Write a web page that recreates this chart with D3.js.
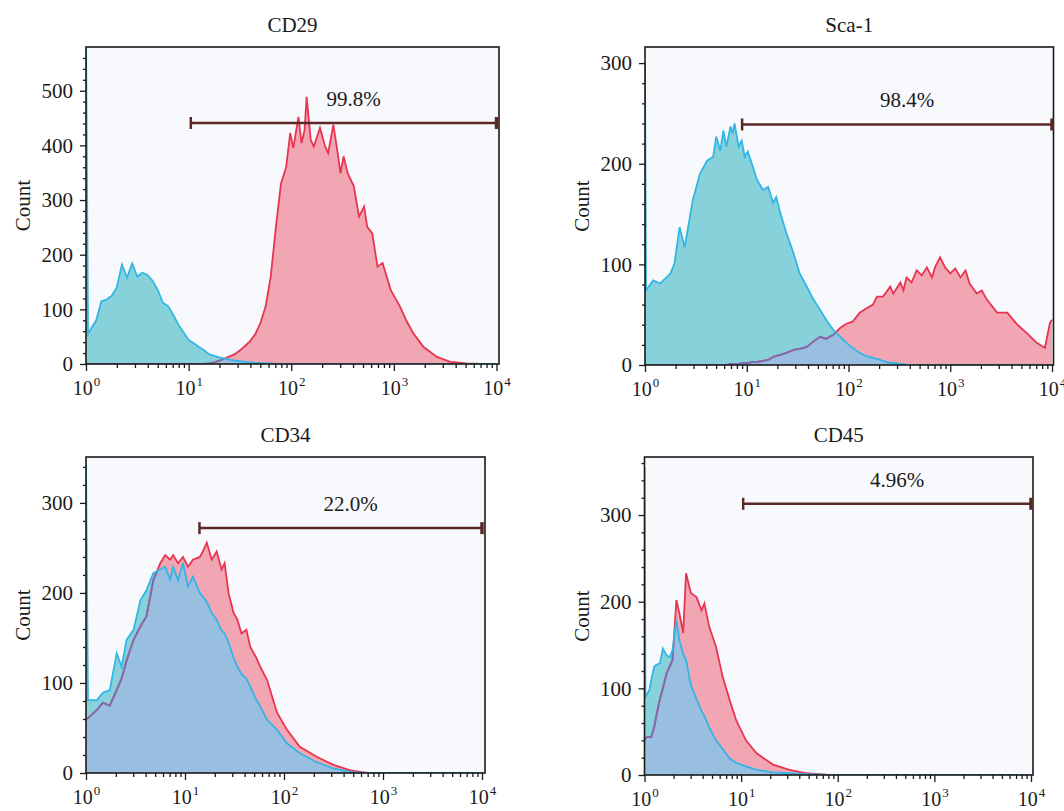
<!DOCTYPE html>
<html>
<head>
<meta charset="utf-8">
<script src="https://cdn.jsdelivr.net/npm/d3@7"></script>
<style>
  body { margin: 0; background: #fff; }
  svg { display: block; font-family: "Liberation Serif", "Times New Roman", serif; }
</style>
</head>
<body>
<div id="chart"></div>
<script>
// ---- data (x positions are log10 of fluorescence, counts) ----
const panelTitles = ["CD29", "Sca-1", "CD34", "CD45"];

const cd29Log = [0, 0.02, 0.05, 0.1, 0.15, 0.2, 0.25, 0.3, 0.35, 0.4,
  0.45, 0.5, 0.55, 0.6, 0.65, 0.7, 0.75, 0.8, 0.85, 0.9,
  0.95, 1.0, 1.05, 1.1, 1.15, 1.2, 1.25, 1.3, 1.35, 1.4,
  1.45, 1.5, 1.55, 1.6, 1.65, 1.7, 1.75, 1.8, 1.85, 1.9,
  1.95, 1.99, 2.02, 2.07, 2.1, 2.13, 2.15, 2.19, 2.22, 2.28,
  2.33, 2.36, 2.41, 2.45, 2.48, 2.51, 2.55, 2.61, 2.66, 2.71,
  2.74, 2.79, 2.84, 2.89, 2.97, 3.06, 3.12, 3.19, 3.29, 3.42,
  3.55, 3.71, 3.85, 4.0];
const cd29Control = [600, 55, 65, 80, 115, 118, 125, 140, 182, 158,
  184, 160, 167, 163, 152, 135, 112, 106, 90, 72,
  58, 44, 38, 31, 25, 18, 15, 12, 10, 8,
  6, 5, 4, 3, 2, 2, 1, 1, 0, 0,
  0, 0, 0, 0, 0, 0, 0, 0, 0, 0,
  0, 0, 0, 0, 0, 0, 0, 0, 0, 0,
  0, 0, 0, 0, 0, 0, 0, 0, 0, 0,
  0, 0, 0, 0];
const cd29Stained = [0, 0, 0, 0, 0, 0, 0, 0, 0, 0,
  0, 0, 0, 0, 0, 0, 0, 0, 0, 0,
  0, 0, 0, 0, 0, 1, 3, 6, 10, 14,
  18, 25, 33, 42, 55, 75, 105, 160, 250, 330,
  360, 423, 395, 452, 404, 428, 489, 410, 398, 432,
  398, 386, 438, 389, 349, 380, 349, 325, 270, 288,
  251, 239, 178, 185, 135, 105, 80, 56, 31, 13,
  4, 1, 0, 0];

const scaLog = [0, 0.01, 0.08, 0.15, 0.25, 0.29, 0.34, 0.39, 0.47, 0.54,
  0.61, 0.67, 0.70, 0.74, 0.77, 0.80, 0.84, 0.86, 0.88, 0.92,
  0.95, 0.98, 1.01, 1.06, 1.10, 1.16, 1.21, 1.26, 1.29, 1.33,
  1.39, 1.46, 1.52, 1.59, 1.65, 1.72, 1.78, 1.85, 1.92, 1.98,
  2.04, 2.11, 2.17, 2.24, 2.28, 2.34, 2.41, 2.44, 2.51, 2.54,
  2.57, 2.62, 2.67, 2.72, 2.77, 2.82, 2.85, 2.90, 2.95, 3.00,
  3.05, 3.10, 3.15, 3.19, 3.26, 3.31, 3.36, 3.46, 3.56, 3.66,
  3.75, 3.85, 3.93, 3.98, 4.0];
const scaControl = [300, 74, 84, 81, 91, 101, 137, 117, 164, 190,
  203, 207, 227, 213, 233, 217, 237, 230, 240, 217,
  223, 207, 212, 197, 184, 174, 177, 161, 167, 151,
  131, 111, 91, 78, 66, 55, 45, 35, 28, 22,
  17, 12, 9, 7, 6, 4, 2, 2, 1, 1,
  0, 0, 0, 0, 0, 0, 0, 0, 0, 0,
  0, 0, 0, 0, 0, 0, 0, 0, 0, 0,
  0, 0, 0, 0, 0];
const scaStained = [0, 0, 0, 0, 0, 0, 0, 0, 0, 0,
  0, 0, 0, 0, 0, 0, 1, 1, 1, 1,
  2, 2, 2, 3, 3, 4, 5, 8, 9, 10,
  12, 15, 16, 18, 23, 28, 26, 30, 37, 41,
  43, 52, 56, 60, 68, 68, 78, 71, 82, 74,
  87, 82, 94, 89, 97, 87, 97, 107, 97, 91,
  96, 87, 94, 81, 71, 74, 65, 52, 52, 40,
  32, 22, 17, 42, 45];

const cd34Log = [0, 0.02, 0.11, 0.17, 0.24, 0.31, 0.36, 0.41, 0.48, 0.55,
  0.61, 0.68, 0.75, 0.8, 0.85, 0.88, 0.93, 0.98, 1.03, 1.08,
  1.15, 1.18, 1.22, 1.27, 1.32, 1.37, 1.40, 1.44, 1.49, 1.53,
  1.57, 1.62, 1.66, 1.72, 1.76, 1.83, 1.93, 2.03, 2.16, 2.33,
  2.5, 2.67, 2.84, 3.2, 3.6, 4.0];
const cd34Control = [342, 81, 81, 89, 92, 133, 118, 148, 159, 192,
  203, 222, 226, 229, 215, 229, 214, 233, 207, 218,
  200, 196, 190, 178, 170, 158, 155, 145, 128, 118,
  110, 105, 96, 81, 74, 59, 48, 33, 22, 12,
  5, 1, 0, 0, 0, 0];
const cd34Stained = [60, 61, 70, 78, 75, 92, 105, 125, 148, 163,
  174, 214, 233, 242, 237, 242, 233, 240, 229, 237,
  240, 246, 256, 237, 246, 226, 233, 200, 178, 170,
  155, 159, 140, 128, 118, 103, 67, 48, 29, 18,
  9, 3, 0, 0, 0, 0];

const cd45Log = [0, 0.01, 0.03, 0.05, 0.07, 0.1, 0.12, 0.16, 0.19, 0.23,
  0.26, 0.29, 0.33, 0.36, 0.4, 0.43, 0.48, 0.54, 0.59, 0.62,
  0.67, 0.74, 0.81, 0.88, 0.95, 1.05, 1.16, 1.33, 1.5, 1.68,
  1.9, 2.5, 3.0, 3.5, 4.0];
const cd45Control = [355, 90, 94, 98, 110, 125, 127, 129, 146, 138,
  136, 144, 179, 156, 140, 133, 104, 87, 74, 68,
  55, 40, 30, 19, 14, 10, 6, 3, 2, 1,
  0, 0, 0, 0, 0];
const cd45Stained = [40, 42, 44, 44, 44, 55, 67, 88, 100, 118,
  125, 133, 202, 187, 164, 233, 210, 205, 190, 198,
  171, 148, 113, 87, 63, 40, 25, 12, 6, 2,
  0, 0, 0, 0, 0];

const yMaxes = [580, 316, 351, 367];
const yTickSets = [[0, 100, 200, 300, 400, 500], [0, 100, 200, 300], [0, 100, 200, 300], [0, 100, 200, 300]];
const xTickValues = [1, 10, 100, 1000, 10000];

const gateLabels = ["99.8%", "98.4%", "22.0%", "4.96%"];
const gateFrom = [10.5, 9, 14, 10.5];
const gateTo = [10000, 10000, 10000, 10000];
const gateLevel = [441, 239, 272, 313];

// ---- layout ----
const width = 1064, height = 811;
const boxes = [
  { left: 86, x10k: 496.5, right: 499, top: 47, bottom: 364 },
  { left: 645, x10k: 1052, right: 1053.5, top: 47, bottom: 365 },
  { left: 86, x10k: 482, right: 485, top: 457, bottom: 773 },
  { left: 644.5, x10k: 1031, right: 1033, top: 457, bottom: 775 }
];

const colors = {
  bg: "#f8f9fc",
  ctrlFill: "#86d1da",
  ctrlLine: "#33b6e6",
  stainFill: "#f2a6b4",
  stainLine: "#e8354f",
  overlap: "#98bee0",
  hidden: "#7a6fb3",
  gate: "#5b2828",
  ink: "#1a1a1a"
};

const fontSize = 21;

const panels = [
  { log: cd29Log, control: cd29Control, stained: cd29Stained },
  { log: scaLog, control: scaControl, stained: scaStained },
  { log: cd34Log, control: cd34Control, stained: cd34Stained },
  { log: cd45Log, control: cd45Control, stained: cd45Stained }
];

const svg = d3.select("#chart").append("svg")
  .attr("width", width)
  .attr("height", height);

svg.append("rect").attr("width", width).attr("height", height).attr("fill", "#fff");

panels.forEach((p, i) => {
  const box = boxes[i];
  const g = svg.append("g");

  const x = d3.scaleLog().domain([1, 1e4]).range([box.left, box.x10k]);
  const y = d3.scaleLinear().domain([0, yMaxes[i]]).range([box.bottom, box.top]);

  const pts = p.log.map((lx, k) => ({ v: Math.pow(10, lx), a: p.control[k], b: p.stained[k] }));

  // plot background
  g.append("rect")
    .attr("x", box.left).attr("y", box.top)
    .attr("width", box.right - box.left).attr("height", box.bottom - box.top)
    .attr("fill", colors.bg);

  const clipId = "clip" + i;
  svg.append("clipPath").attr("id", clipId)
    .append("rect")
    .attr("x", box.left).attr("y", box.top)
    .attr("width", box.right - box.left).attr("height", box.bottom - box.top);

  const marks = g.append("g").attr("clip-path", `url(#${clipId})`);

  const areaOf = (acc) => d3.area().x(d => x(d.v)).y0(y(0)).y1(d => y(acc(d)));
  const lineOf = (acc) => d3.line().x(d => x(d.v)).y(d => y(acc(d)));

  marks.append("path").datum(pts).attr("d", areaOf(d => d.b)).attr("fill", colors.stainFill);
  marks.append("path").datum(pts).attr("d", areaOf(d => d.a)).attr("fill", colors.ctrlFill);
  marks.append("path").datum(pts).attr("d", areaOf(d => Math.min(d.a, d.b))).attr("fill", colors.overlap);

  marks.append("path").datum(pts).attr("d", lineOf(d => d.b))
    .attr("fill", "none").attr("stroke", colors.stainLine).attr("stroke-width", 1.8);

  // stained outline seen through the control histogram
  const ctrlClip = "ctrl" + i;
  svg.append("clipPath").attr("id", ctrlClip)
    .append("path").datum(pts).attr("d", areaOf(d => d.a));
  marks.append("g").attr("clip-path", `url(#${ctrlClip})`)
    .append("path").datum(pts).attr("d", lineOf(d => d.b))
    .attr("fill", "none").attr("stroke", colors.hidden).attr("stroke-width", 1.8);

  marks.append("path").datum(pts).attr("d", lineOf(d => d.a))
    .attr("fill", "none").attr("stroke", colors.ctrlLine).attr("stroke-width", 1.8);

  // frame
  g.append("rect")
    .attr("x", box.left).attr("y", box.top)
    .attr("width", box.right - box.left).attr("height", box.bottom - box.top)
    .attr("fill", "none").attr("stroke", colors.ink).attr("stroke-width", 1.6);

  // y axis
  const yMinor = d3.range(0, yMaxes[i], 20).filter(v => v % 100 !== 0);
  const yMinorG = g.append("g").attr("transform", `translate(${box.left},0)`)
    .call(d3.axisLeft(y).tickValues(yMinor).tickSize(3).tickFormat(""));
  const yG = g.append("g").attr("transform", `translate(${box.left},0)`)
    .call(d3.axisLeft(y).tickValues(yTickSets[i]).tickSize(6).tickPadding(7).tickFormat(d3.format("d")));
  [yMinorG, yG].forEach(a => {
    a.select(".domain").remove();
    a.selectAll("line").attr("stroke", colors.ink).attr("stroke-width", 1.3);
  });
  yG.selectAll("text")
    .attr("font-family", "Liberation Serif, Times New Roman, serif")
    .attr("font-size", fontSize).attr("fill", colors.ink);

  // x axis (log decades + minor ticks)
  const xMinor = x.ticks().filter(v => !xTickValues.includes(v));
  const xMinorG = g.append("g").attr("transform", `translate(0,${box.bottom})`)
    .call(d3.axisBottom(x).tickValues(xMinor).tickSize(4).tickFormat(""));
  const xG = g.append("g").attr("transform", `translate(0,${box.bottom})`)
    .call(d3.axisBottom(x).tickValues(xTickValues).tickSize(7).tickFormat(() => "10"));
  [xMinorG, xG].forEach(a => {
    a.select(".domain").remove();
    a.selectAll("line").attr("stroke", colors.ink).attr("stroke-width", 1.3);
  });
  xG.selectAll("text")
    .attr("y", 31).attr("dy", 0)
    .attr("font-family", "Liberation Serif, Times New Roman, serif")
    .attr("font-size", fontSize - 1).attr("fill", colors.ink)
    .each(function (d) {
      d3.select(this).append("tspan")
        .attr("dy", -9).attr("dx", 1)
        .attr("font-size", 13)
        .text(Math.round(Math.log10(d)));
    });

  // axis title and panel title
  g.append("text")
    .attr("transform", `translate(${box.left - 63},${(box.top + box.bottom) / 2}) rotate(-90)`)
    .attr("text-anchor", "middle").attr("dy", "0.35em")
    .attr("font-size", fontSize).attr("fill", colors.ink)
    .text("Count");

  g.append("text")
    .attr("x", (box.left + box.right) / 2).attr("y", box.top - 15)
    .attr("text-anchor", "middle")
    .attr("font-size", fontSize).attr("fill", colors.ink)
    .text(panelTitles[i]);

  // gate bar
  const gx1 = x(gateFrom[i]), gx2 = x(gateTo[i]), gy = y(gateLevel[i]);
  g.append("line")
    .attr("x1", gx1).attr("x2", gx2).attr("y1", gy).attr("y2", gy)
    .attr("stroke", colors.gate).attr("stroke-width", 2.5);
  [gx1, gx2].forEach((gx, k) => {
    g.append("line")
      .attr("x1", gx).attr("x2", gx).attr("y1", gy - 6).attr("y2", gy + 6)
      .attr("stroke", colors.gate).attr("stroke-width", k === 0 ? 2.5 : 3.5);
  });
  g.append("text")
    .attr("x", (gx1 + gx2) / 2 + 10).attr("y", gy - 17)
    .attr("text-anchor", "middle")
    .attr("font-size", fontSize).attr("fill", colors.ink)
    .text(gateLabels[i]);
});
</script>
</body>
</html>
